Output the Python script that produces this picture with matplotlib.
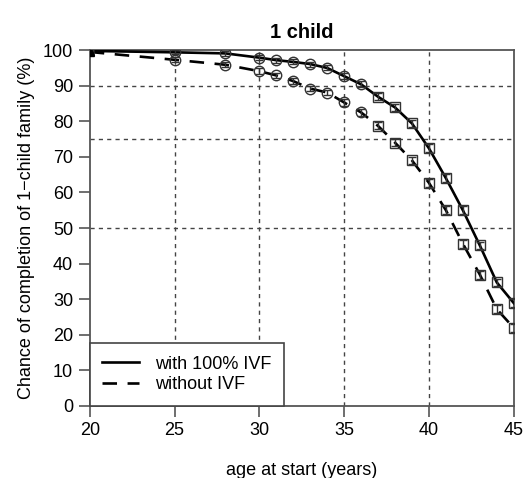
import matplotlib
matplotlib.use("Agg")
import matplotlib.pyplot as plt
import numpy as np

ages = [20, 25, 28, 30, 31, 32, 33, 34, 35, 36, 37, 38, 39, 40, 41, 42, 43, 44, 45]
with_ivf = [99.8, 99.4, 99.1, 97.9, 97.2, 96.7, 96.1, 95.0, 92.7, 90.4, 86.9, 83.9, 79.4, 72.4, 64.0, 55.0, 45.1, 34.7, 28.9]
without_ivf = [99.5, 97.3, 95.9, 94.1, 92.9, 91.3, 89.2, 88.1, 85.3, 82.5, 78.7, 74.0, 69.0, 62.7, 55.0, 45.6, 36.9, 27.2, 21.9]
err_with = [0.2, 0.6, 0.6, 0.7, 0.7, 0.7, 0.7, 0.7, 0.8, 0.8, 1.0, 1.0, 1.0, 1.1, 1.1, 1.1, 1.1, 1.1, 1.1]
err_without = [0.2, 0.7, 0.7, 0.8, 0.8, 0.8, 0.8, 0.8, 0.9, 0.9, 1.0, 1.0, 1.1, 1.1, 1.1, 1.1, 1.1, 1.1, 1.1]
square_from = 37

plt.rcParams['font.family'] = ['Liberation Sans', 'DejaVu Sans']

fig = plt.figure(figsize=(5.28, 4.78), dpi=100)
ax = fig.add_axes([0.170, 0.151, 0.803, 0.744])

grid_kw = dict(color='#444444', lw=1.0, ls=(0, (3, 3)), zorder=0)
for gx in [25, 30, 35, 40]:
    ax.axvline(gx, **grid_kw)
for gy in [50, 75, 90]:
    ax.axhline(gy, **grid_kw)

a = np.array(ages)
ax.plot(ages, with_ivf, color='black', lw=1.9, ls='-', label='with 100% IVF', zorder=3)
ax.plot(ages, without_ivf, color='black', lw=1.9, ls=(0, (5.5, 4)), label='without IVF', zorder=3)

for ys, es in [(with_ivf, err_with), (without_ivf, err_without)]:
    ys = np.array(ys); es = np.array(es)
    ax.errorbar(a, ys, yerr=es, fmt='none', ecolor='#333333', elinewidth=1.0,
                capsize=3, capthick=1.0, zorder=4)
    m1 = (a < square_from) & (a > 20)
    m2 = a >= square_from
    ax.plot(a[m1], ys[m1], ls='none', marker='o', ms=7.5, mfc='none',
            mec='#333333', mew=1.0, zorder=5)
    ax.plot(a[m2], ys[m2], ls='none', marker='s', ms=6.5, mfc='none',
            mec='#333333', mew=1.0, zorder=5)
    m0 = a == 20
    ax.plot(a[m0], ys[m0], ls='none', marker='^', ms=6, mfc='black',
            mec='black', zorder=5)

ax.set_xlim(20, 45)
ax.set_ylim(0, 100)
ax.set_xticks([20, 25, 30, 35, 40, 45])
ax.set_yticks(np.arange(0, 101, 10))
ax.tick_params(direction='out', length=8, width=1.2, color='#555555',
               labelsize=13, pad=4)
for s in ax.spines.values():
    s.set_color('#555555')
    s.set_linewidth(1.3)

ax.set_title('1 child', fontsize=14.5, fontweight='bold', pad=9)
ax.set_xlabel('age at start (years)', fontsize=13, labelpad=16)
ax.set_ylabel('Chance of completion of 1\u2212child family (%)', fontsize=13, labelpad=6)

leg = ax.legend(loc='lower left', borderaxespad=0, fontsize=13, fancybox=False,
                framealpha=1, edgecolor='#444444', handlelength=2.0,
                handletextpad=0.9, borderpad=0.7, labelspacing=0.2)
leg.get_frame().set_linewidth(1.2)
leg.set_zorder(10)

fig.savefig('out.png', dpi=100)
